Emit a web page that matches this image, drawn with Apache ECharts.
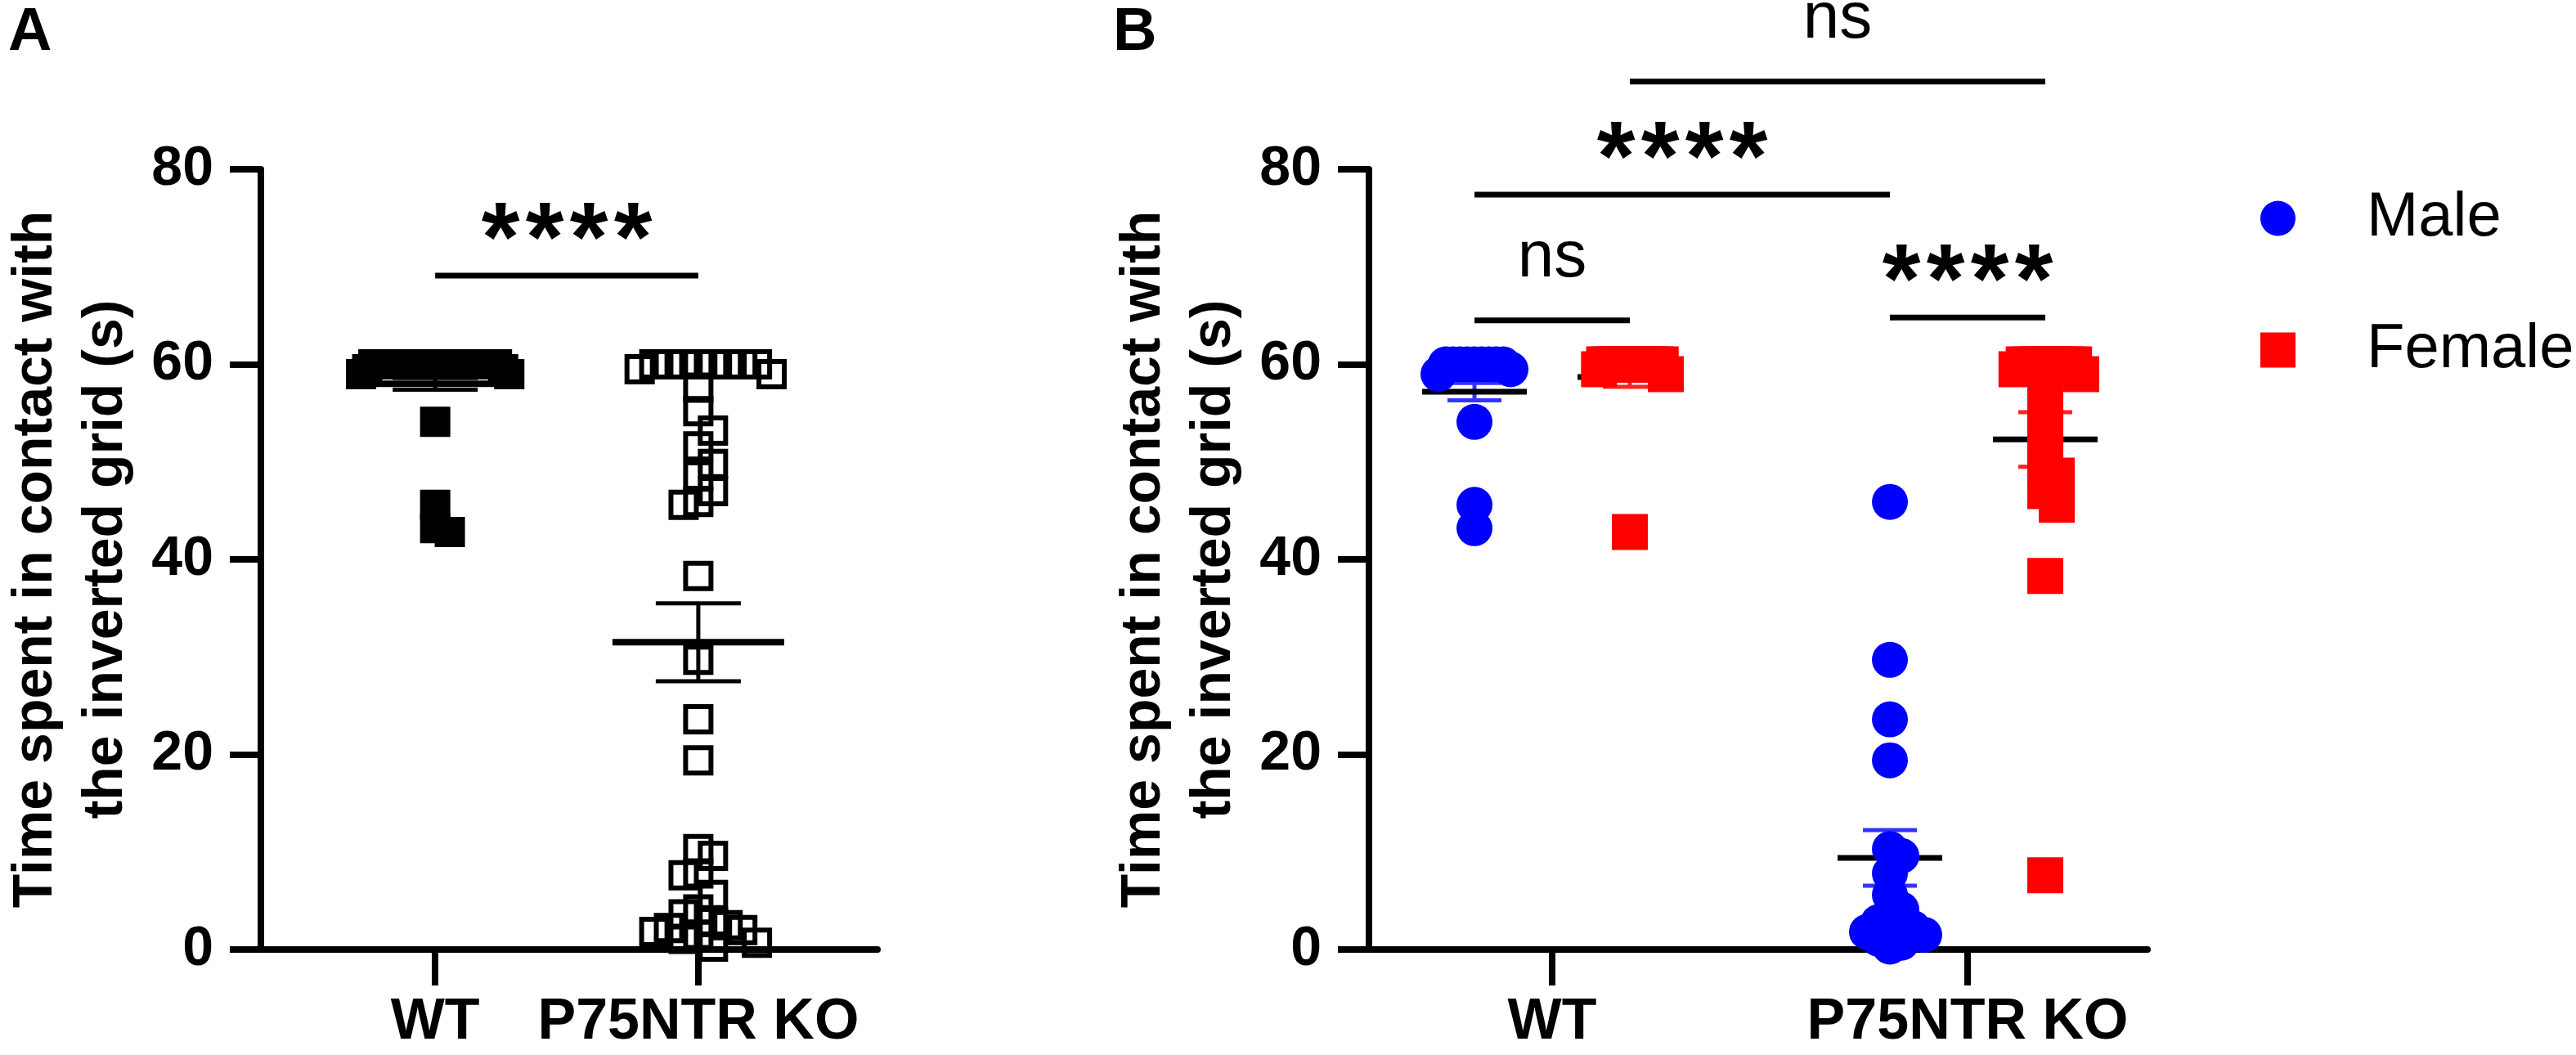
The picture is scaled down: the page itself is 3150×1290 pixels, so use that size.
<!DOCTYPE html>
<html lang="en">
    <head>
        <meta charset="UTF-8" />
        <script type="text/javascript" src="https://cdn.jsdelivr.net/npm/echarts@6/dist/echarts.min.js"></script>
        <title>Inverted grid test</title>
        <style type="text/css">
            html, body { margin: 0; padding: 0; background: #fff; }
            #chart { width: 3150px; height: 1290px; }
        </style>
    </head>

    <body>
        <div id="chart"></div>
        <script type="text/javascript">
            // x categories and y ticks
            const groups = ["WT", "P75NTR KO"];
            const yTicks = [0, 20, 40, 60, 80];

            // individual animals, seconds in contact with the grid
            const wtMale = [60, 60, 60, 60, 60, 60, 60, 60, 60, 59.5, 59, 54.1, 45.6, 43.2];
            const wtFemale = [60, 60, 60, 60, 60, 60, 60, 60, 60, 60, 60, 60, 59.5, 59, 42.8];
            const koMale = [45.9, 29.7, 23.6, 19.4, 10.3, 9.6, 7.8, 5.6, 4.1, 3.6, 2.8, 2.5, 2.2, 2.0, 1.8, 1.5, 1.1, 0.7, 0.3];
            const koFemale = [60, 60, 60, 60, 60, 60, 60, 60, 59.5, 59, 57.6, 55.2, 53.2, 51.6, 49.8, 48.6, 47, 45.6, 38.3, 7.6];

            // mean and SEM as drawn
            const meanA = [58.0, 31.5];
            const semA = [0.6, 4.0];
            const meanMale = [57.2, 9.4];
            const semMale = [0.9, 2.85];
            const meanFemale = [58.7, 52.3];
            const semFemale = [1.0, 2.8];

            // significance brackets: label, height (axis units)
            const sigTextA = ["****"];
            const sigLevelA = [69.1];
            const sigTextB = ["ns", "****", "ns", "****"];
            const sigLevelB = [89.0, 77.4, 64.5, 64.8];
            // [group, sex, group, sex] for each bracket of panel B
            const sigPairsB = [
                [1, "F", 2, "F"],
                [1, "M", 2, "M"],
                [1, "M", 1, "F"],
                [2, "M", 2, "F"],
            ];

            const LA = { left: 316, top: 207, width: 757, height: 954, xMin: 0.3375, xMax: 2.681 };
            const LB = { left: 1674, top: 207, width: 952, height: 954, xMin: 0.559, xMax: 2.433 };
            const FONT = "Liberation Sans, Arial, sans-serif";
            const pxPerUnitB = LB.width / (LB.xMax - LB.xMin);
            const sexShift = { M: -95 / pxPerUnitB, F: 95 / pxPerUnitB };

            // column scatter layout: nudge overlapping points sideways, squeeze rows that get too wide
            function swarm(values, center, lay, d, h, maxHalf) {
                const pxX = lay.width / (lay.xMax - lay.xMin);
                const pxY = lay.height / 80;
                const order = values.map((v, i) => i).sort((a, b) => values[b] - values[a]);
                const placed = [];
                order.forEach((i) => {
                    const y = values[i] * pxY;
                    for (let k = 0; k < 400; k++) {
                        const off = k === 0 ? 0 : (k % 2 ? 1 : -1) * Math.ceil(k / 2) * d;
                        const clash = placed.some(
                            (p) => Math.abs(p.y - y) < h && Math.abs(p.off - off) < d - 0.01
                        );
                        if (!clash) {
                            placed.push({ i: i, y: y, off: off });
                            break;
                        }
                    }
                });
                return placed.map((p) => {
                    const near = placed.filter((q) => Math.abs(q.y - p.y) < h);
                    const rowMax = Math.max.apply(null, near.map((q) => Math.abs(q.off)));
                    const s = rowMax > maxHalf ? maxHalf / rowMax : 1;
                    return [center + (p.off * s) / pxX, values[p.i]];
                });
            }

            function errorBars(meanHalf, capHalf, color, meanWidth) {
                return function (params, api) {
                    const x = api.value(0), m = api.value(1), s = api.value(2);
                    const c = api.coord([x, m]);
                    const hi = api.coord([x, m + s]);
                    const lo = api.coord([x, m - s]);
                    const st = { stroke: color, lineWidth: 5 };
                    return {
                        type: "group",
                        children: [
                            { type: "line", shape: { x1: c[0], y1: hi[1], x2: c[0], y2: lo[1] }, style: st },
                            { type: "line", shape: { x1: c[0] - capHalf, y1: hi[1], x2: c[0] + capHalf, y2: hi[1] }, style: st },
                            { type: "line", shape: { x1: c[0] - capHalf, y1: lo[1], x2: c[0] + capHalf, y2: lo[1] }, style: st },
                            { type: "line", shape: { x1: c[0] - meanHalf, y1: c[1], x2: c[0] + meanHalf, y2: c[1] }, style: { stroke: "#000", lineWidth: meanWidth } },
                        ],
                    };
                };
            }

            function sigBracket(texts) {
                return function (params, api) {
                    const p1 = api.coord([api.value(0), api.value(2)]);
                    const p2 = api.coord([api.value(1), api.value(2)]);
                    const mid = (p1[0] + p2[0]) / 2;
                    const text = texts[params.dataIndex];
                    const children = [
                        { type: "line", shape: { x1: p1[0], y1: p1[1], x2: p2[0], y2: p2[1] }, style: { stroke: "#000", lineWidth: 7 } },
                    ];
                    if (text === "ns") {
                        children.push({
                            type: "text", x: mid, y: p1[1] - 76,
                            style: { text: "ns", fill: "#000", font: "80px " + FONT, align: "center", verticalAlign: "middle" },
                        });
                    } else {
                        const n = text.length;
                        for (let k = 0; k < n; k++) {
                            children.push({
                                type: "text", x: mid + (k - (n - 1) / 2) * 54, y: p1[1] - 39,
                                style: { text: "*", fill: "#000", font: "bold 120px " + FONT, align: "center", verticalAlign: "middle" },
                            });
                        }
                    }
                    return { type: "group", children: children };
                };
            }

            const chart = echarts.init(document.getElementById("chart"));

            const axisLineStyle = { color: "#000", width: 8 };
            function xAxisFor(idx, lay) {
                return {
                    gridIndex: idx,
                    type: "value",
                    min: lay.xMin,
                    max: lay.xMax,
                    axisLine: { show: true, onZero: false, lineStyle: axisLineStyle },
                    axisTick: { show: true, customValues: [1, 2], length: 44, lineStyle: axisLineStyle },
                    axisLabel: {
                        customValues: [1, 2],
                        formatter: (v) => groups[Math.round(v) - 1],
                        fontSize: 70, fontWeight: "bold", fontFamily: FONT, color: "#000", margin: 55,
                    },
                    splitLine: { show: false },
                };
            }
            function yAxisFor(idx) {
                return {
                    gridIndex: idx,
                    type: "value",
                    min: yTicks[0],
                    max: yTicks[yTicks.length - 1],
                    interval: 20,
                    axisLine: { show: true, onZero: false, lineStyle: axisLineStyle },
                    axisTick: { show: true, length: 38, lineStyle: axisLineStyle },
                    axisLabel: { fontSize: 68, fontWeight: "bold", fontFamily: FONT, color: "#000", margin: 58 },
                    splitLine: { show: false },
                    name: "Time spent in contact with\nthe inverted grid (s)",
                    nameLocation: "middle",
                    nameRotate: 90,
                    nameGap: 146,
                    nameTextStyle: { fontSize: 68, fontWeight: "bold", fontFamily: FONT, color: "#000", lineHeight: 86 },
                };
            }

            const option = {
                animation: false,
                backgroundColor: "#fff",
                textStyle: { fontFamily: FONT },
                grid: [
                    { left: LA.left, top: LA.top, width: LA.width, height: LA.height },
                    { left: LB.left, top: LB.top, width: LB.width, height: LB.height },
                ],
                xAxis: [xAxisFor(0, LA), xAxisFor(1, LB)],
                yAxis: [yAxisFor(0), yAxisFor(1)],
                legend: {
                    data: ["Male", "Female"],
                    orient: "vertical",
                    left: 2759,
                    top: 224,
                    itemWidth: 43,
                    itemHeight: 43,
                    itemGap: 85,
                    textStyle: { fontSize: 76, fontFamily: FONT, color: "#000", lineHeight: 43, padding: [0, 0, 0, 82] },
                },
                graphic: [
                    { type: "text", left: 10, top: 4, style: { text: "A", font: "bold 74px " + FONT, fill: "#000" } },
                    { type: "text", left: 1361, top: 4, style: { text: "B", font: "bold 74px " + FONT, fill: "#000" } },
                ],
                series: [
                    // panel A
                    {
                        type: "custom", name: "mean A", xAxisIndex: 0, yAxisIndex: 0, clip: false,
                        renderItem: errorBars(105, 52, "#000", 8),
                        data: groups.map((g, i) => [i + 1, meanA[i], semA[i]]),
                    },
                    {
                        type: "scatter", name: "WT", xAxisIndex: 0, yAxisIndex: 0,
                        symbol: "rect", symbolSize: 37,
                        itemStyle: { color: "#000", opacity: 1 },
                        data: swarm(wtMale.concat(wtFemale), 1, LA, 18, 28, 91),
                    },
                    {
                        type: "scatter", name: "P75NTR KO", xAxisIndex: 0, yAxisIndex: 0,
                        symbol: "rect", symbolSize: 31,
                        itemStyle: { color: "rgba(0,0,0,0)", borderColor: "#000", borderWidth: 6, opacity: 1 },
                        data: swarm(koMale.concat(koFemale), 2, LA, 18, 28, 91),
                    },
                    {
                        type: "custom", name: "sig A", xAxisIndex: 0, yAxisIndex: 0, clip: false, z: 5,
                        renderItem: sigBracket(sigTextA),
                        data: sigLevelA.map((lv) => [1, 2, lv]),
                    },
                    // panel B
                    {
                        type: "custom", name: "mean M", xAxisIndex: 1, yAxisIndex: 1, clip: false,
                        renderItem: errorBars(64, 33, "#3333ff", 7),
                        data: groups.map((g, i) => [i + 1 + sexShift.M, meanMale[i], semMale[i]]),
                    },
                    {
                        type: "custom", name: "mean F", xAxisIndex: 1, yAxisIndex: 1, clip: false,
                        renderItem: errorBars(64, 33, "#ff2222", 7),
                        data: groups.map((g, i) => [i + 1 + sexShift.F, meanFemale[i], semFemale[i]]),
                    },
                    {
                        type: "scatter", name: "Male", xAxisIndex: 1, yAxisIndex: 1,
                        symbol: "circle", symbolSize: 44,
                        itemStyle: { color: "#0000ff", opacity: 1 },
                        data: swarm(wtMale, 1 + sexShift.M, LB, 14, 18, 44).concat(
                            swarm(koMale, 2 + sexShift.M, LB, 14, 18, 44)
                        ),
                    },
                    {
                        type: "scatter", name: "Female", xAxisIndex: 1, yAxisIndex: 1,
                        symbol: "rect", symbolSize: 44,
                        itemStyle: { color: "#ff0000", opacity: 1 },
                        data: swarm(wtFemale, 1 + sexShift.F, LB, 14, 18, 44).concat(
                            swarm(koFemale, 2 + sexShift.F, LB, 14, 18, 44)
                        ),
                    },
                    {
                        type: "custom", name: "sig B", xAxisIndex: 1, yAxisIndex: 1, clip: false, z: 5,
                        renderItem: sigBracket(sigTextB),
                        data: sigPairsB.map((p, i) => [p[0] + sexShift[p[1]], p[2] + sexShift[p[3]], sigLevelB[i]]),
                    },
                ],
            };
            chart.setOption(option);
        </script>
    </body>
</html>
